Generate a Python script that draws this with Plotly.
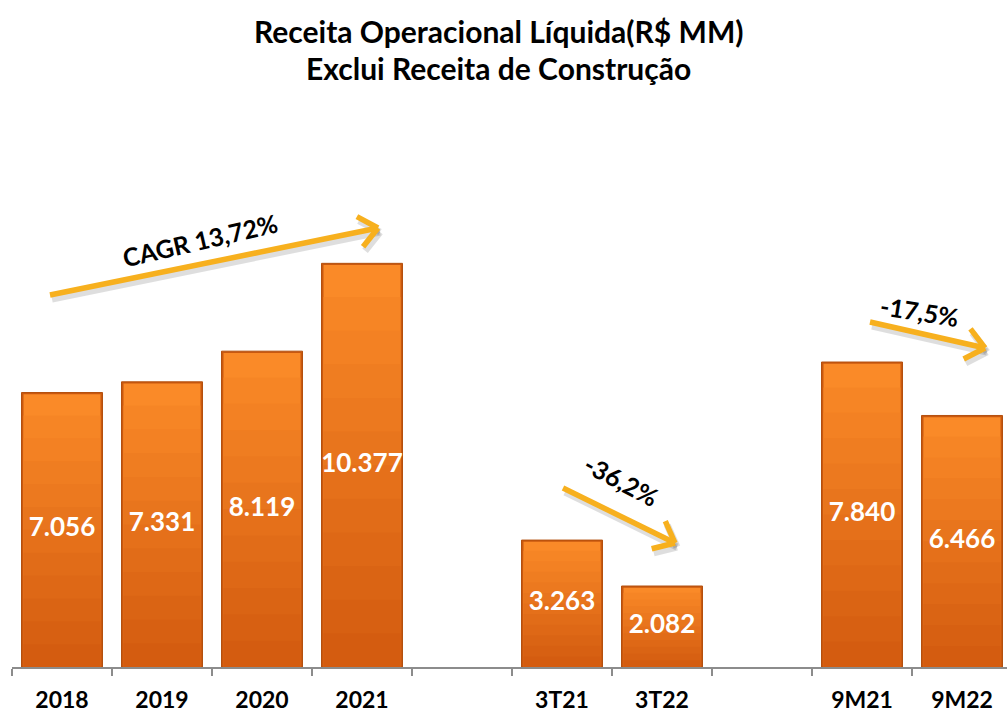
import math
import plotly.graph_objs as go

# dados
categorias = ["2018", "2019", "2020", "2021", " ", "3T21", "3T22", "  ", "9M21", "9M22"]
valores = [7056, 7331, 8119, 10377, None, 3263, 2082, None, 7840, 6466]
rotulos = ["7.056", "7.331", "8.119", "10.377", "", "3.263", "2.082", "", "7.840", "6.466"]

titulo1 = "Receita Operacional Líquida(R$ MM)"
titulo2 = "Exclui Receita de Construção"

# setas (posições em pixel da imagem, convertidas para dados)
setas = [
    dict(txt="CAGR 13,72%", tail=(50, 295), head=(378, 228), pos=(200, 240), ang=-13),
    dict(txt="-36,2%", tail=(563, 488), head=(675, 543), pos=(621, 480), ang=28),
    dict(txt="-17,5%", tail=(870, 322), head=(985, 348), pos=(919, 311), ang=9),
]

W, H = 1007, 713
ML, MB, MT = 12, 46, 100
SLOT = 100
ESCALA = 0.0389  # px por unidade
PH = H - MB - MT
YMAX = PH / ESCALA
FONT = "Lato"


def px2x(px):
    return (px - ML) / SLOT - 0.5


def py2y(py):
    return (H - MB - py) / ESCALA


fig = go.Figure()

# borda lateral mais escura (efeito de chanfro)
fig.add_trace(go.Bar(
    x=categorias, y=valores, width=0.81,
    marker=dict(color="#C9580F", line=dict(color="#B4500E", width=1)),
    hoverinfo="skip", showlegend=False,
))

# gradiente vertical por camadas (claro em cima, escuro embaixo)
topo = (250, 138, 40)
base = (212, 92, 16)
n = 12
for k in range(n):
    f = 1 - k / n
    t = k / (n - 1)
    c = tuple(int(topo[i] + (base[i] - topo[i]) * t) for i in range(3))
    fig.add_trace(go.Bar(
        x=categorias,
        y=[v * f - (45 if k == 0 else 0) if v is not None else None for v in valores],
        marker=dict(color="rgb(%d,%d,%d)" % c, line=dict(width=0)),
        width=0.77,
        hoverinfo="skip",
        showlegend=False,
    ))

fig.add_trace(go.Scatter(
    x=categorias,
    y=[v / 2 if v is not None else None for v in valores],
    text=rotulos,
    mode="text",
    textfont=dict(family=FONT, size=26, color="white", weight="bold"),
    showlegend=False,
    hoverinfo="skip",
))

shapes = []
annotations = []
cor_seta = "#F7B01E"
for s in setas:
    (tx, ty), (hx, hy) = s["tail"], s["head"]
    d = math.hypot(hx - tx, hy - ty)
    ux, uy = (hx - tx) / d, (hy - ty) / d
    segs = [((tx, ty), (hx, hy))]
    for a in (40, -40):
        r = math.radians(a)
        bx = ux * math.cos(r) - uy * math.sin(r)
        by = ux * math.sin(r) + uy * math.cos(r)
        segs.append(((hx - 24 * bx, hy - 24 * by), (hx, hy)))
    # sombra
    for (p0, p1) in segs:
        shapes.append(dict(type="line", xref="x", yref="y",
                           x0=px2x(p0[0] + 2), y0=py2y(p0[1] + 4),
                           x1=px2x(p1[0] + 2), y1=py2y(p1[1] + 4),
                           line=dict(color="rgba(0,0,0,0.13)", width=7)))
    for (p0, p1) in segs:
        shapes.append(dict(type="line", xref="x", yref="y",
                           x0=px2x(p0[0]), y0=py2y(p0[1]),
                           x1=px2x(p1[0]), y1=py2y(p1[1]),
                           line=dict(color=cor_seta, width=5.5)))
    annotations.append(dict(x=px2x(s["pos"][0]), y=py2y(s["pos"][1]), xref="x", yref="y",
                            text=s["txt"], showarrow=False, textangle=s["ang"],
                            font=dict(family=FONT, size=25, color="black", weight="bold")))

for t, py in [(titulo1, 31), (titulo2, 68)]:
    annotations.append(dict(x=(W / 2 - 5 - ML) / (W - ML), y=(H - MB - py) / PH,
                            xref="paper", yref="paper",
                            yanchor="middle", xanchor="center", text=t, showarrow=False,
                            font=dict(family=FONT, size=30, color="black", weight="bold")))

fig.update_layout(
    width=W, height=H,
    margin=dict(l=ML, r=0, t=MT, b=MB, autoexpand=False),
    plot_bgcolor="white", paper_bgcolor="white",
    barmode="overlay",
    shapes=shapes,
    annotations=annotations,
    xaxis=dict(type="category", range=[-0.5, 9.45], showline=True, linecolor="#8C8C8C",
               linewidth=1.5, ticks="outside", tickson="boundaries", ticklen=7,
               tickcolor="#8C8C8C", tickwidth=1.5, showgrid=False, ticklabelstandoff=12,
               tickfont=dict(family=FONT, size=23, color="black", weight="bold")),
    yaxis=dict(range=[0, YMAX], visible=False, showgrid=False),
)

# remove a margem padrão do <body> para a figura começar em (0, 0)
fig.write_html("out.html", config={"displayModeBar": False},
               post_script="document.body.style.margin='0';")
